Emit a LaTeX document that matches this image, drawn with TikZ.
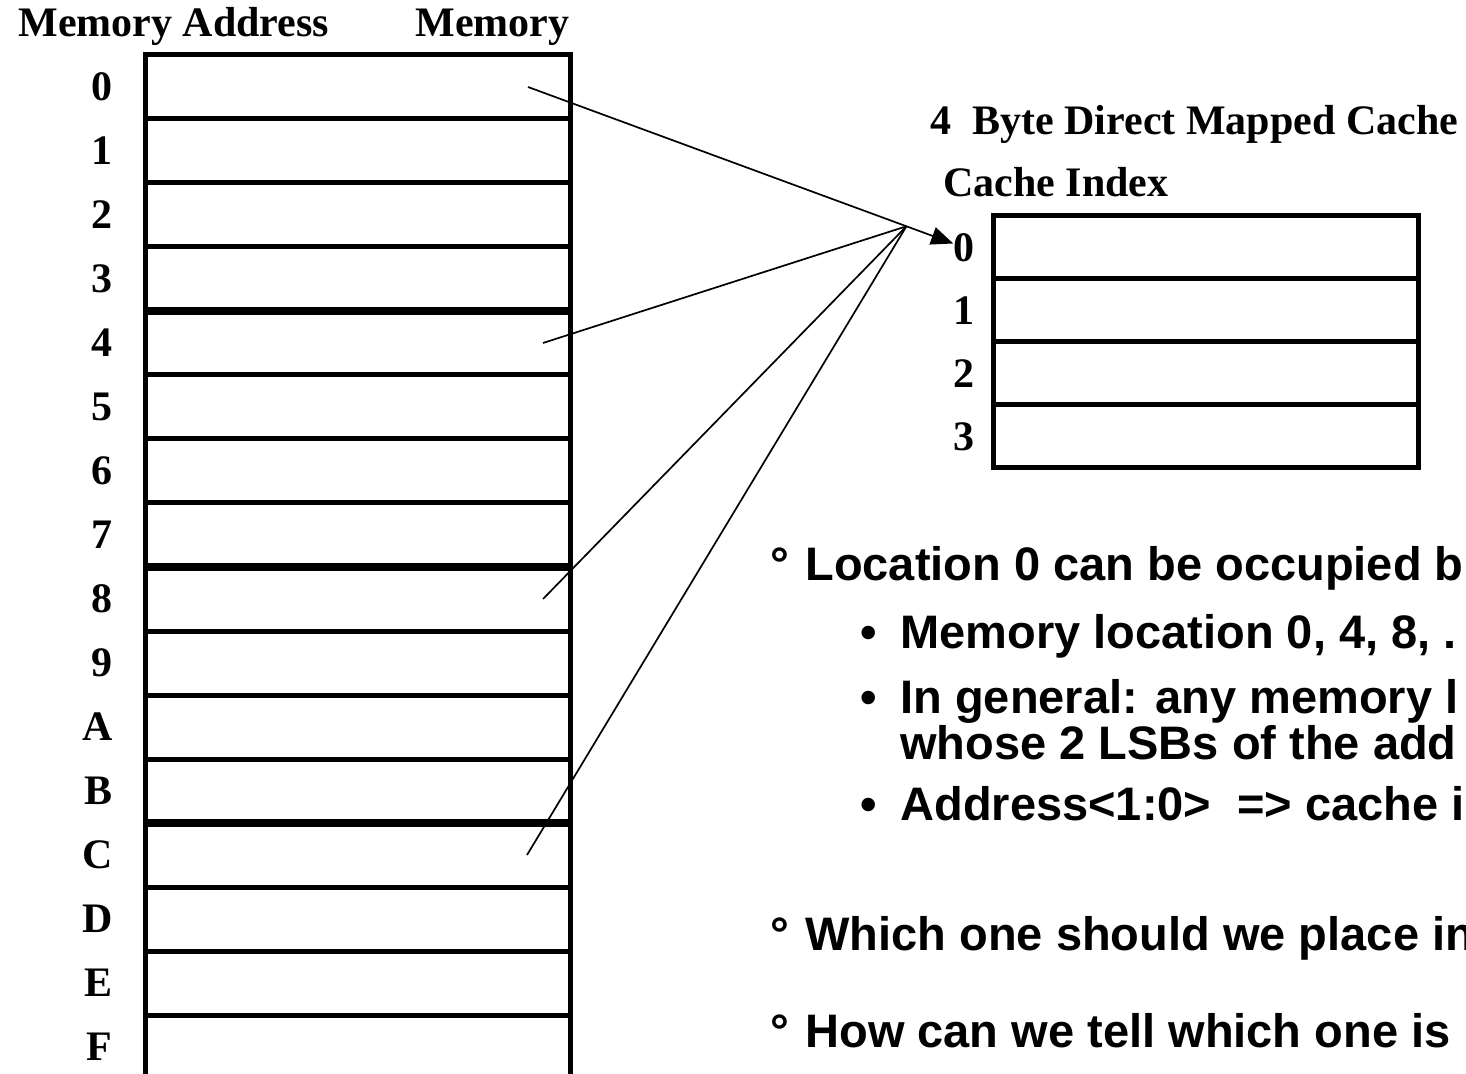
\documentclass[tikz,border=0pt]{standalone}
\usepackage{fontspec}
\setmainfont{Liberation Serif}
\newfontfamily\slidefont{Liberation Sans}
\usetikzlibrary{arrows.meta,positioning,calc}

\begin{document}
\begin{tikzpicture}[x=0.5pt,y=-0.5pt,
  memcell/.style={draw,line width=2.5pt,minimum width=212.5pt,minimum height=32pt,inner sep=0pt,outer sep=0pt},
  cachecell/.style={draw,line width=2.5pt,minimum width=212.5pt,minimum height=31.5pt,inner sep=0pt,outer sep=0pt},
  addr/.style={font=\fontsize{21}{25}\selectfont\bfseries,inner sep=0pt},
  head/.style={font=\fontsize{21}{25}\selectfont\bfseries,inner sep=0pt,anchor=base west},
  bodytext/.style={font=\slidefont\fontsize{23.5}{23}\selectfont\bfseries,inner sep=0pt,anchor=base west},
  sep/.style={line width=4pt},
  link/.style={line width=0.85pt},
  arr/.style={-{Triangle[length=11pt,width=9pt]},line width=0.85pt}
]
\useasboundingbox (0,0) rectangle (1466,1074);
\clip (0,0) rectangle (1466,1074);

% memory
\foreach \a [count=\i from 0] in {0,1,2,3,4,5,6,7,8,9,A,B,C,D,E,F}{
  \node[memcell] (m\i) at (357.5,{87+64*\i}) {};
  \node[addr,left=16pt of m\i] (a\i) {\a};
}
\foreach \i in {3,7,11}
  \draw[sep] (m\i.south west) -- (m\i.south east);
\node[head] (memaddr) at (18,37) {Memory Address};
\node[head] (memtitle) at (415,37) {Memory};

% cache
\foreach \i in {0,...,3}{
  \node[cachecell] (c\i) at (1205.5,{247.5+63*\i}) {};
  \node[addr,left=9pt of c\i] (ci\i) {\i};
}
\node[head] (cachetitle) at (930,135) {4\ \ Byte Direct Mapped Cache};
\node[head] (cacheidx) at (943,197) {Cache Index};

% mapping
\coordinate (s0) at ([xshift=-21pt]m0.east);
\coordinate (s4) at ([xshift=-13.5pt]m4.east);
\coordinate (s8) at ([xshift=-13.5pt]m8.east);
\coordinate (s12) at ([xshift=-21.5pt]m12.east);
\draw[arr] (s0) -- ([yshift=2pt]ci0.west);
\coordinate (hub) at ($(s0)!0.89!([yshift=2pt]ci0.west)$);
\foreach \i in {4,8,12}
  \draw[link] (s\i) -- (hub);

% notes
\node[bodytext] (d1) at (770,581) {°};
\node[bodytext] (q1) at (805,581) {Location 0 can be occupied b};
\node[bodytext] (b1) at (860,648) {•};
\node[bodytext] (p1) at (900,648) {Memory location 0, 4, 8, .};
\node[bodytext] (b2) at (860,713) {•};
\node[bodytext,align=left] (p2) at (900,759) {In general: any memory l\\whose 2 LSBs of the add};
\node[bodytext] (b3) at (860,820) {•};
\node[bodytext] (p3) at (900,820) {Address<1:0>\ \ => cache i};
\node[bodytext] (d2) at (770,950) {°};
\node[bodytext] (q2) at (805,950) {Which one should we place in};
\node[bodytext] (d3) at (770,1047) {°};
\node[bodytext] (q3) at (805,1047) {How can we tell which one is};
\end{tikzpicture}
\end{document}
